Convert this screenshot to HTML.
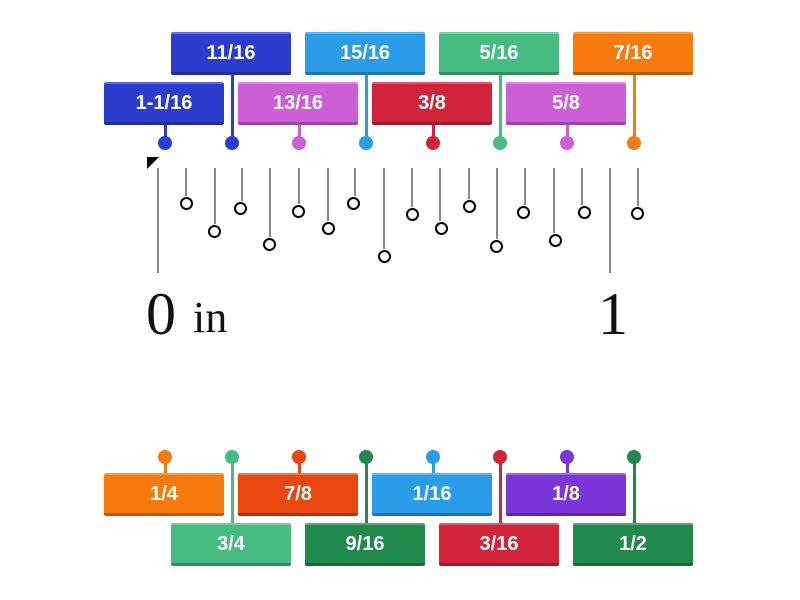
<!DOCTYPE html>
<html><head><style>
body{margin:0;width:800px;height:600px;background:#fff;position:relative;overflow:hidden;font-family:"Liberation Sans",sans-serif}
.b{position:absolute;width:120px;height:43px;color:#fff;font-weight:bold;font-size:20px;text-align:center;line-height:42px;border-radius:2px;box-sizing:border-box;border-bottom:3px solid rgba(0,0,0,.25);box-shadow:inset 0 2px 0 rgba(255,255,255,.25)}
.l{position:absolute;width:3px}
.d{position:absolute;width:14px;height:14px;border-radius:50%}
.t{position:absolute;width:2px;background:#888}
.c{position:absolute;width:9px;height:9px;border:2.5px solid #000;border-radius:50%;background:#fff}
.s{position:absolute;font-family:"Liberation Serif",serif;color:#111}
</style></head><body>
<div id="g"></div>
<div class="s" style="left:146px;top:280px;font-size:60px">0</div>
<div class="s" style="left:193px;top:292px;font-size:44px">in</div>
<div class="s" style="left:598px;top:280px;font-size:60px">1</div>
<div style="position:absolute;left:147px;top:157px;width:0;height:0;border-top:12px solid #000;border-right:12px solid transparent"></div>
<script>
var ticksA=[[158,273],[186,196],[215,224],[242,201],[270,237],[299,204],[328,221],[355,196],[384,249],[412,207],[440,221],[469,199],[497,239],[525,205],[554,233],[582,205],[610,273],[638,206]];
var circA=[[187,204],[215,232],[241,209],[270,245],[299,212],[329,229],[354,204],[385,257],[413,215],[442,229],[470,207],[497,247],[524,213],[556,241],[585,213],[638,214]];
var h='';
ticksA.forEach(function(p){h+='<div class="t" style="left:'+(p[0]-1)+'px;top:168px;height:'+(p[1]-168)+'px"></div>';});
circA.forEach(function(p){h+='<div class="c" style="left:'+(p[0]-7)+'px;top:'+(p[1]-7)+'px"></div>';});
var C={db:'#2b3ccf',lb:'#2a9de8',gr:'#45bd80',or:'#f67a0c',pk:'#cc5fd6',rd:'#d1233a',orr:'#e8470f',dg:'#1f8a4b',vi:'#7b35d8'};
var xs=[165,232,299,366,433,500,567,634];
var topL=[['1-1/16','db',1],['11/16','db',0],['13/16','pk',1],['15/16','lb',0],['3/8','rd',1],['5/16','gr',0],['5/8','pk',1],['7/16','or',0]];
var botL=[['1/4','or',0],['3/4','gr',1],['7/8','orr',0],['9/16','dg',1],['1/16','lb',0],['3/16','rd',1],['1/8','vi',0],['1/2','dg',1]];
topL.forEach(function(a,i){var x=xs[i],y=a[2]?82:32,c=C[a[1]];
h+='<div class="l" style="left:'+(x-1.5)+'px;top:'+(y+40)+'px;height:'+(143-y-40)+'px;background:'+c+'"></div><div class="d" style="left:'+(x-7)+'px;top:136px;background:'+c+'"></div><div class="b" style="left:'+(x-61)+'px;top:'+y+'px;background:'+c+'">'+a[0]+'</div>';});
botL.forEach(function(a,i){var x=xs[i],y=a[2]?523:473,c=C[a[1]];
h+='<div class="l" style="left:'+(x-1.5)+'px;top:457px;height:'+(y-457+4)+'px;background:'+c+'"></div><div class="d" style="left:'+(x-7)+'px;top:450px;background:'+c+'"></div><div class="b" style="left:'+(x-61)+'px;top:'+y+'px;background:'+c+'">'+a[0]+'</div>';});
document.getElementById('g').innerHTML=h;
</script>
</body></html>
